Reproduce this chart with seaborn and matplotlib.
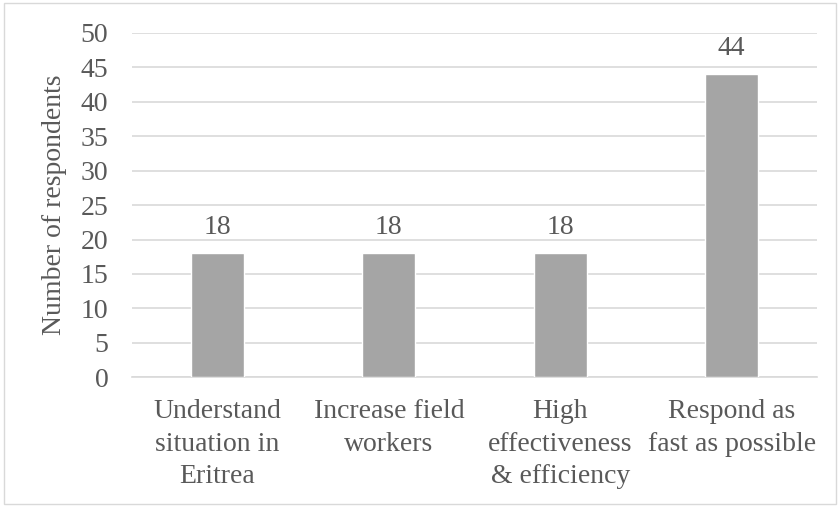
import seaborn as sns
import matplotlib.pyplot as plt
import pandas as pd
from matplotlib.patches import Rectangle

categories = ["Understand\nsituation in\nEritrea", "Increase field\nworkers",
              "High\neffectiveness\n& efficiency", "Respond as\nfast as possible"]
values = [18, 18, 18, 44]

df = pd.DataFrame({"category": categories, "respondents": values})

sns.set_style("white")
plt.rcParams["font.family"] = ["Liberation Serif", "DejaVu Serif"]
text_col = "#595959"
fs = 20

fig = plt.figure(figsize=(8.4, 5.07), dpi=100)
ax = fig.add_axes([0.157, 0.256, 0.816, 0.679])

sns.barplot(data=df, x="category", y="respondents", color="#a5a5a5",
            width=0.31, saturation=1, ax=ax, zorder=3)

for i, v in enumerate(values):
    ax.text(i, v + 1.9, str(v), ha="center", va="bottom", fontsize=fs, color=text_col)

ax.set_ylim(0, 50)
ax.set_yticks(range(0, 51, 5))
ax.yaxis.grid(True, color="#d9d9d9", linewidth=1.2, zorder=0)
ax.set_axisbelow(True)
for s in ["top", "right", "left"]:
    ax.spines[s].set_visible(False)
ax.spines["bottom"].set_color("#d9d9d9")
ax.spines["bottom"].set_linewidth(1.2)
ax.tick_params(axis="both", length=0, labelsize=fs, colors=text_col)
ax.tick_params(axis="x", pad=16)
ax.tick_params(axis="y", pad=17)
ax.set_xlabel("")
ax.set_ylabel("Number of respondents", fontsize=fs, color=text_col, labelpad=10)
for lbl in ax.get_xticklabels():
    lbl.set_linespacing(1.38)

fig.patches.append(Rectangle((0.005, 0.005), 0.99, 0.99, transform=fig.transFigure,
                             fill=False, edgecolor="#d9d9d9", linewidth=1))

plt.savefig("out.png", dpi=100)
